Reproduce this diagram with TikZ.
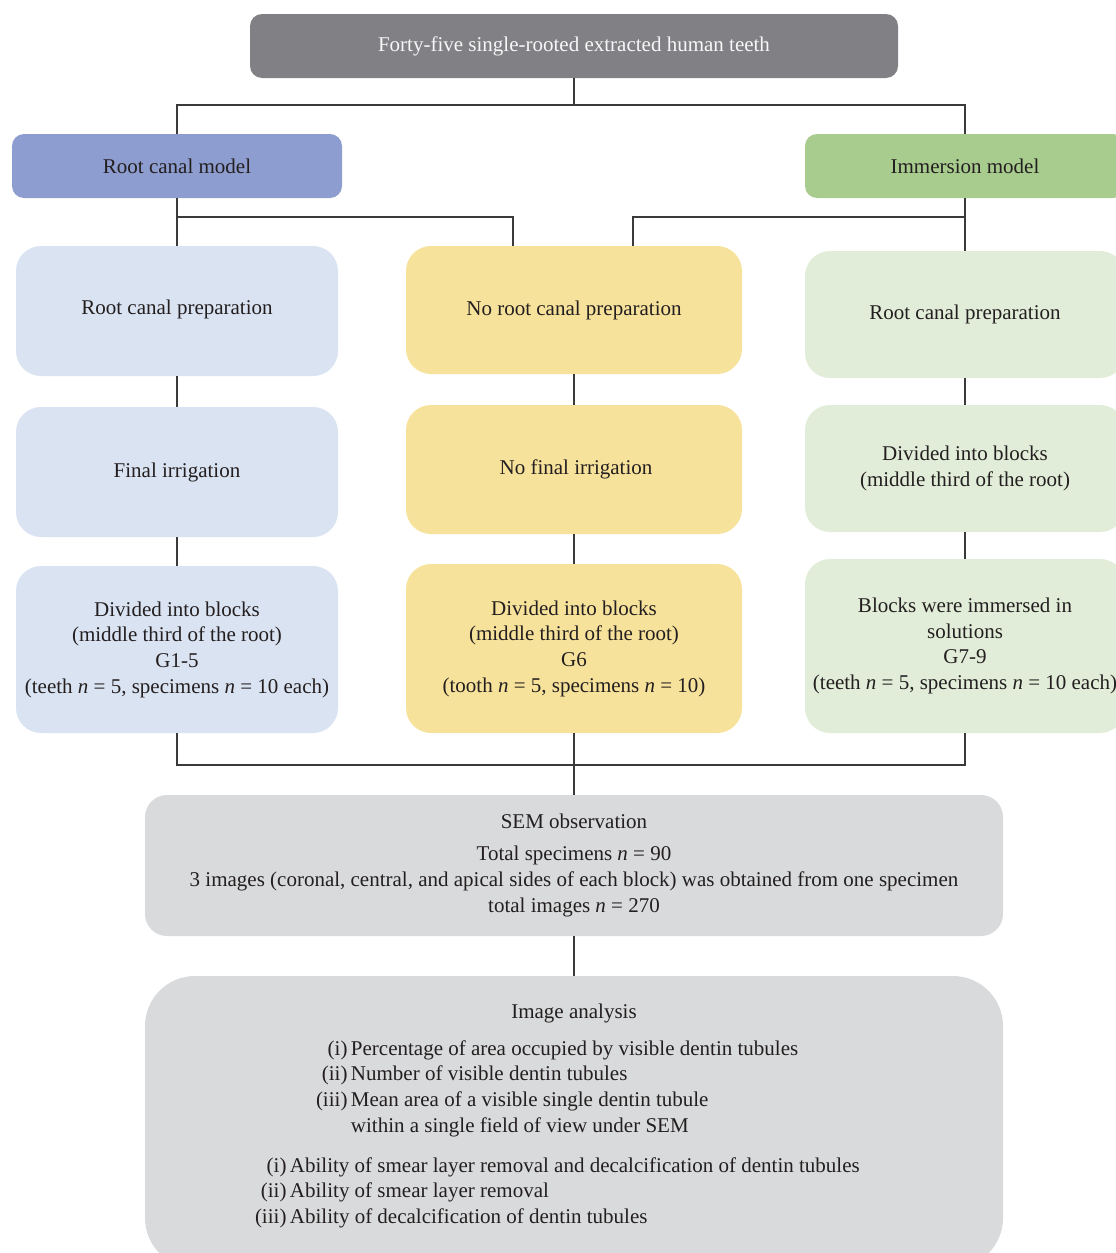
\documentclass[tikz,border=0pt]{standalone}
\usepackage{fontspec}
\setmainfont{Liberation Serif}
\definecolor{topgray}{HTML}{818185}
\definecolor{rcmblue}{HTML}{8E9DCF}
\definecolor{immgreen}{HTML}{A8CB8E}
\definecolor{lblue}{HTML}{DAE3F1}
\definecolor{lyellow}{HTML}{F7E29B}
\definecolor{lgreen}{HTML}{E1EDD8}
\definecolor{lgray}{HTML}{D9DADB}
\definecolor{linecol}{HTML}{3A3A3A}
\definecolor{txt}{HTML}{231F20}
\begin{document}
\begin{tikzpicture}[x=1pt,y=-1pt,
  every node/.style={font=\fontsize{21}{25.7}\selectfont, text=txt, inner sep=0pt, outer sep=0pt},
  hdr/.style={rounded corners=12pt, align=center},
  cbox/.style={rounded corners=25pt, align=center},
  conn/.style={draw=linecol, line width=1.4pt}]
\useasboundingbox (0,0) rectangle (1116,1253);
\clip (0,0) rectangle (1116,1253);
% header boxes
\node[hdr, fill=topgray, text=white!94!gray, minimum width=648, minimum height=64] (top) at (574,46) {Forty-five single-rooted extracted human teeth};
\node[hdr, fill=rcmblue, minimum width=330, minimum height=64] (rcm) at (177,166) {Root canal model};
\node[hdr, fill=immgreen, minimum width=320, minimum height=64] (imm) at (965,166) {\raisebox{-3pt}{Immersion model}};
% row 1
\node[cbox, fill=lblue, minimum width=322, minimum height=130] (rcp) at (177,311) {\raisebox{7pt}{Root canal preparation}};
\node[cbox, fill=lyellow, minimum width=336, minimum height=128] (nrcp) at (574,310) {\raisebox{2pt}{No root canal preparation}};
\node[cbox, fill=lgreen, minimum width=320, minimum height=127] (rcp2) at (965,314.5) {Root canal preparation};
% row 2
\node[cbox, fill=lblue, minimum width=322, minimum height=130] (fi) at (177,472) {Final irrigation};
\node[cbox, fill=lyellow, minimum width=336, minimum height=129] (nfi) at (574,469.5) {\hspace*{4pt}No final irrigation};
\node[cbox, fill=lgreen, minimum width=320, minimum height=127] (div0) at (965,468.5) {Divided into blocks\\(middle third of the root)};
% row 3
\node[cbox, fill=lblue, minimum width=322, minimum height=167] (div1) at (177,649.5) {Divided into blocks\\(middle third of the root)\\G1-5\\(teeth \textit{n} = 5, specimens \textit{n} = 10 each)};
\node[cbox, fill=lyellow, minimum width=336, minimum height=169] (div2) at (574,648.5) {Divided into blocks\\(middle third of the root)\\G6\\(tooth \textit{n} = 5, specimens \textit{n} = 10)};
\node[cbox, fill=lgreen, minimum width=320, minimum height=174] (div3) at (965,646) {Blocks were immersed in\\solutions\\G7-9\\(teeth \textit{n} = 5, specimens \textit{n} = 10 each)};
% SEM
\node[cbox, rounded corners=22pt, fill=lgray, minimum width=858, minimum height=141] (sem) at (574,865.5) {SEM observation\\[6pt]Total specimens \textit{n} = 90\\3 images (coronal, central, and apical sides of each block) was obtained from one specimen\\total images \textit{n} = 270};
% Image analysis
\node[rounded corners=50pt, fill=lgray, minimum width=858, minimum height=292] (ia) at (574,1122) {};
\node (iat) at (574,1013) {Image analysis};
\node[anchor=north west] (ial1) at (316,1037) {\begin{tabular}{@{}r@{\,}l@{}}(i) & Percentage of area occupied by visible dentin tubules\\(ii) & Number of visible dentin tubules\\(iii) & Mean area of a visible single dentin tubule\\ & within a single field of view under SEM\end{tabular}};
\node[anchor=north west] (ial2) at (255,1154) {\begin{tabular}{@{}r@{\,}l@{}}(i) & Ability of smear layer removal and decalcification of dentin tubules\\(ii) & Ability of smear layer removal\\(iii) & Ability of decalcification of dentin tubules\end{tabular}};
% connectors
\coordinate (j1) at (574,105);
\coordinate (j2) at (513,217);
\coordinate (j3) at (633,217);
\coordinate (j4) at (574,765);
\draw[conn] (top.south) -- (j1);
\draw[conn] (rcm.north) |- (j1);
\draw[conn] (imm.north) |- (j1);
\draw[conn] (rcm.south) -- (rcp.north);
\draw[conn] (rcm.south) |- (j2) -- (j2 |- nrcp.north);
\draw[conn] (imm.south) -- (rcp2.north);
\draw[conn] (imm.south) |- (j3) -- (j3 |- nrcp.north);
\draw[conn] (rcp.south) -- (fi.north);
\draw[conn] (fi.south) -- (div1.north);
\draw[conn] (nrcp.south) -- (nfi.north);
\draw[conn] (nfi.south) -- (div2.north);
\draw[conn] (rcp2.south) -- (div0.north);
\draw[conn] (div0.south) -- (div3.north);
\draw[conn] (div1.south) |- (j4);
\draw[conn] (div3.south) |- (j4);
\draw[conn] (div2.south) -- (sem.north);
\draw[conn] (sem.south) -- (ia.north);
\end{tikzpicture}
\end{document}
